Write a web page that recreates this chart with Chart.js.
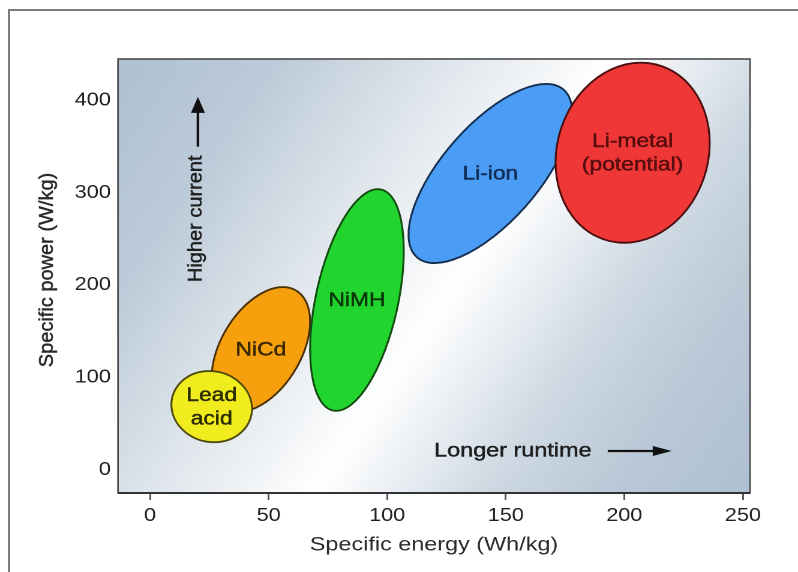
<!DOCTYPE html>
<html>
<head>
<meta charset="utf-8">
<script src="https://cdn.jsdelivr.net/npm/chart.js@4.4.1/dist/chart.umd.min.js"></script>
<style>
  html, body { margin: 0; padding: 0; background: #fff; overflow: hidden; }
  #wrap { position: relative; width: 798px; height: 572px; overflow: hidden; }
  #frame { position: absolute; left: 8px; top: 9px; width: 900px; height: 700px; border: 2px solid #7c7c7c; }
  #chart { position: absolute; left: 0; top: 0; transform: scaleX(1.2); transform-origin: 0 0; }
</style>
</head>
<body>
<div id="wrap">
  <div id="frame"></div>
  <canvas id="chart" width="665" height="572"></canvas>
</div>
<script>
// ---- Data: battery chemistries as regions of energy / power ----
const chemistries       = ['NiCd', 'Lead acid', 'NiMH', 'Li-ion', 'Li-metal (potential)'];
const labelLines        = [['NiCd'], ['Lead', 'acid'], ['NiMH'], ['Li-ion'], ['Li-metal', '(potential)']];
const energyMin         = [26, 9, 67.5, 109, 171];      // Wh/kg
const energyMax         = [67.5, 43, 107, 178, 236];
const powerMin          = [63, 30, 64, 224, 246];       // W/kg
const powerMax          = [198, 107, 304, 418, 441];
const energyAtPeakPower = [56, 25, 96, 167, 207];       // where the region is highest

const energyTicks = [0, 50, 100, 150, 200, 250];
const powerTicks  = [0, 100, 200, 300, 400];

// ---- Styles ----
const FILLS   = ['#f7a00e', '#f0ec1e', '#22d42e', '#4a9cf4', '#ef3737'];
const STROKES = ['#4a3006', '#4e4a0c', '#104a10', '#152e50', '#4a0e0e'];
const INKS    = ['#3a2804', '#2c2c04', '#0a360a', '#112c55', '#550d0d'];
const FONT    = '"Liberation Sans", Arial, sans-serif';
const S = 1.2; // whole picture is stretched sideways by this much

const BG_STOPS = [
  [0.00, '#aec0d1'], [0.17, '#bccbd9'], [0.32, '#d9e1e8'], [0.45, '#f0f3f6'],
  [0.53, '#ffffff'], [0.62, '#e8edf2'], [0.72, '#cdd8e2'], [0.85, '#bac9d7'], [1.00, '#aec0d1'],
];

// annotation anchors, in data units
const NOTES = {
  upText: { x: 19.4, y: 272 },
  upArrow: { x: 20.2, from: 350, to: 404 },
  rightText: { x: 153, y: 20.5 },
  rightArrow: { y: 20.5, from: 193, to: 220 },
};

Chart.defaults.font.family = FONT;

function realSpace(ctx) { ctx.save(); ctx.scale(1 / S, 1); }

// text a touch heavier, like the soft original
function inkText(ctx, txt, x, y) {
  ctx.lineWidth = 0.45;
  ctx.strokeStyle = ctx.fillStyle;
  ctx.strokeText(txt, x, y);
  ctx.fillText(txt, x, y);
}

const backdrop = {
  id: 'backdrop',
  beforeDraw(chart) {
    const { ctx, chartArea: a } = chart;
    realSpace(ctx);
    const l = a.left * S, r = a.right * S;
    const g = ctx.createLinearGradient(l, a.top, r, a.bottom);
    BG_STOPS.forEach(([o, c]) => g.addColorStop(o, c));
    ctx.fillStyle = g;
    ctx.fillRect(l, a.top, r - l, a.bottom - a.top);
    ctx.restore();
  },
  afterDraw(chart) {
    const { ctx, chartArea: a } = chart;
    realSpace(ctx);
    const l = a.left * S, r = a.right * S;
    ctx.strokeStyle = '#4a4a4a';
    ctx.lineWidth = 1.6;
    ctx.strokeRect(l, a.top, r - l, a.bottom - a.top);
    ctx.strokeStyle = '#333';
    ctx.lineWidth = 2;
    ctx.beginPath(); ctx.moveTo(l, a.bottom); ctx.lineTo(r, a.bottom); ctx.stroke();
    ctx.restore();
  }
};

const regions = {
  id: 'regions',
  afterDatasetsDraw(chart) {
    const { ctx, scales: { x, y } } = chart;
    chemistries.forEach((name, i) => {
      const x0 = x.getPixelForValue(energyMin[i]), x1 = x.getPixelForValue(energyMax[i]);
      const yTop = y.getPixelForValue(powerMax[i]), yBot = y.getPixelForValue(powerMin[i]);
      const cx = (x0 + x1) / 2, cy = (yTop + yBot) / 2;
      const hw = (x1 - x0) / 2, hh = (yBot - yTop) / 2;
      const s = x.getPixelForValue(energyAtPeakPower[i]) - cx;
      const k = Math.sqrt(Math.max(0, hw * hw - s * s));

      ctx.save();
      ctx.transform(k, 0, s, -hh, cx, cy);
      ctx.beginPath();
      ctx.arc(0, 0, 1, 0, Math.PI * 2);
      ctx.restore();
      ctx.fillStyle = FILLS[i];
      ctx.fill();
      realSpace(ctx);
      ctx.lineWidth = 1.9;
      ctx.strokeStyle = STROKES[i];
      ctx.stroke();
      ctx.restore();

      const lines = labelLines[i];
      ctx.save();
      ctx.fillStyle = INKS[i];
      ctx.font = `19px ${FONT}`;
      ctx.textAlign = 'center';
      ctx.textBaseline = 'middle';
      lines.forEach((ln, j) => inkText(ctx, ln, cx, cy + 1 + (j - (lines.length - 1) / 2) * 23.5));
      ctx.restore();
    });
  }
};

const notes = {
  id: 'notes',
  afterDraw(chart) {
    const { ctx, scales: { x, y } } = chart;
    ctx.save();
    ctx.textAlign = 'center';
    ctx.textBaseline = 'middle';

    // y axis title, upright glyphs (not stretched)
    realSpace(ctx);
    ctx.fillStyle = '#2a2a2a';
    ctx.font = `20px ${FONT}`;
    ctx.translate(47, 270);
    ctx.rotate(-Math.PI / 2);
    inkText(ctx, 'Specific power (W/kg)', 0, 0);
    ctx.restore();

    // Higher current + up arrow
    realSpace(ctx);
    ctx.fillStyle = '#1e1e1e';
    ctx.font = `20px ${FONT}`;
    ctx.translate(x.getPixelForValue(NOTES.upText.x) * S, y.getPixelForValue(NOTES.upText.y));
    ctx.rotate(-Math.PI / 2);
    inkText(ctx, 'Higher current', 0, 0);
    ctx.restore();

    realSpace(ctx);
    const ax = x.getPixelForValue(NOTES.upArrow.x) * S;
    const ay0 = y.getPixelForValue(NOTES.upArrow.from), ay1 = y.getPixelForValue(NOTES.upArrow.to);
    ctx.strokeStyle = '#111'; ctx.fillStyle = '#111'; ctx.lineWidth = 2.6;
    ctx.beginPath(); ctx.moveTo(ax, ay0); ctx.lineTo(ax, ay1 + 12); ctx.stroke();
    ctx.beginPath(); ctx.moveTo(ax, ay1); ctx.lineTo(ax - 7, ay1 + 16); ctx.lineTo(ax + 7, ay1 + 16); ctx.closePath(); ctx.fill();

    // right arrow
    const ry = y.getPixelForValue(NOTES.rightArrow.y);
    const rx0 = x.getPixelForValue(NOTES.rightArrow.from) * S, rx1 = x.getPixelForValue(NOTES.rightArrow.to) * S;
    ctx.lineWidth = 2.2;
    ctx.beginPath(); ctx.moveTo(rx0, ry); ctx.lineTo(rx1 - 14, ry); ctx.stroke();
    ctx.beginPath(); ctx.moveTo(rx1, ry); ctx.lineTo(rx1 - 19, ry - 5); ctx.lineTo(rx1 - 19, ry + 5); ctx.closePath(); ctx.fill();
    ctx.restore();

    // Longer runtime (stretched like the rest)
    ctx.fillStyle = '#1e1e1e';
    ctx.font = `19.5px ${FONT}`;
    inkText(ctx, 'Longer runtime', x.getPixelForValue(NOTES.rightText.x), y.getPixelForValue(NOTES.rightText.y));
    ctx.restore();
  }
};

new Chart(document.getElementById('chart'), {
  type: 'scatter',
  data: { datasets: [] },
  options: {
    responsive: false,
    animation: false,
    devicePixelRatio: 2,
    layout: { padding: { top: 59, right: 40, left: 0, bottom: 0 } },
    plugins: { legend: { display: false }, tooltip: { enabled: false } },
    scales: {
      x: {
        type: 'linear',
        min: -13.5,
        max: 253,
        afterBuildTicks: s => { s.ticks = energyTicks.map(v => ({ value: v })); },
        afterFit: s => { s.height = 79; },
        grid: { drawOnChartArea: false, drawTicks: true, tickLength: 7, color: '#555', lineWidth: 1.5 },
        border: { display: false },
        ticks: { color: '#222', font: { size: 18 }, padding: 5, maxRotation: 0 },
        title: { display: true, text: 'Specific energy (Wh/kg)', color: '#2a2a2a', font: { size: 19.5 }, padding: { top: 0, bottom: 15 } }
      },
      y: {
        type: 'linear',
        min: -25,
        max: 445,
        afterBuildTicks: s => { s.ticks = powerTicks.map(v => ({ value: v })); },
        afterFit: s => { s.width = 118 / S; },
        grid: { display: false, drawTicks: false },
        border: { display: false },
        ticks: { color: '#222', font: { size: 18 }, padding: 6 },
        title: { display: false }
      }
    }
  },
  plugins: [backdrop, regions, notes]
});
</script>
</body>
</html>
